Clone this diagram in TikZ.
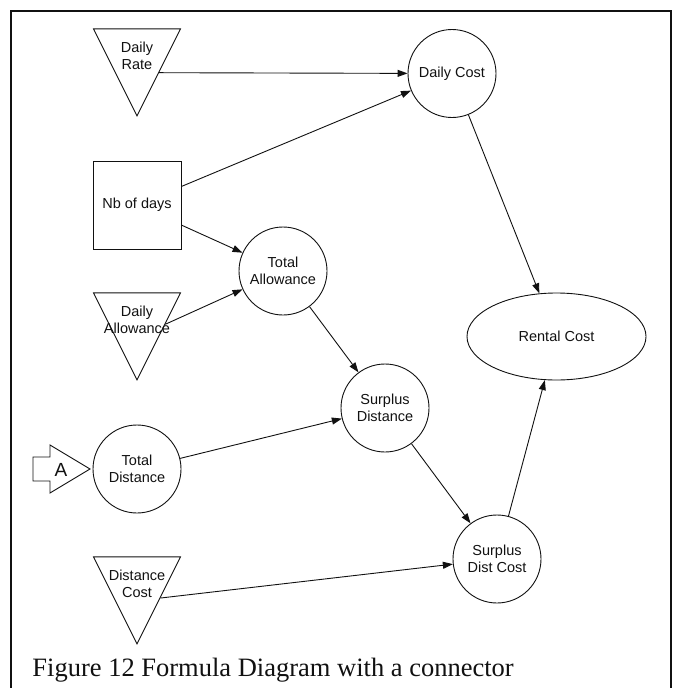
\documentclass[tikz,border=0pt]{standalone}
\usepackage{fontspec}
\setmainfont{Liberation Serif}
\setsansfont{Liberation Sans}
\usetikzlibrary{shapes.geometric,arrows.meta,calc}
\definecolor{ink}{HTML}{111111}

\tikzset{
  lbl/.style={font=\sffamily\fontsize{14.5}{17}\selectfont,align=center,text=ink,inner sep=0pt},
  var/.style={draw=ink,circle,minimum size=88pt,inner sep=0pt,lbl},
  inputtri/.style={draw=ink,isosceles triangle,isosceles triangle stretches,
    shape border rotate=270,minimum width=87pt,minimum height=87pt,inner sep=0pt},
  arr/.style={draw=ink,-{Triangle[length=10pt,width=7pt]}}
}

\begin{document}
\begin{tikzpicture}[x=1pt,y=-1pt,line width=0.9pt]
  \useasboundingbox (0,0) rectangle (681,688);
  \draw[ink,line width=2pt] (11,700) -- (11,11) -- (671,11) -- (671,700);

  % inputs on the left
  \node[inputtri,anchor=apex] (dailyrate) at (137,117) {};
  \node[lbl] (dailyratetxt) at (137,56) {Daily\\Rate};
  \node[draw=ink,minimum width=88pt,minimum height=88pt,lbl] (nbdays) at (137,205) {Nb of days};
  \node[inputtri,anchor=apex] (dailyallow) at (137,381) {};
  \node[lbl] (dailyallowtxt) at (137,320) {Daily\\Allowance};
  \node[inputtri,anchor=apex] (distcost) at (137,645) {};
  \node[lbl] (distcosttxt) at (137,584) {Distance\\Cost};

  % exits on the right side of the triangles
  \coordinate (dailyrateout) at ($(dailyrate.left corner)!0.5!(dailyrate.apex)$);
  \coordinate (dailyallowout) at ($(dailyallow.left corner)!0.36!(dailyallow.apex)$);
  \coordinate (distcostout) at ($(distcost.left corner)!0.47!(distcost.apex)$);

  % connector A
  \draw[ink] (33,457) -- (50,457) -- (50,445) -- (90,469) -- (50,493) -- (50,481) -- (33,481) -- cycle;
  \node[lbl,font=\sffamily\fontsize{19}{20}\selectfont] (conA) at (61,470) {A};

  % formulas
  \node[var] (dailycost) at (452,73.5) {Daily Cost};
  \node[var] (totalallow) at (283,271) {Total\\Allowance};
  \node[var] (surplusdist) at (385,408) {Surplus\\Distance};
  \node[var] (totaldist) at (137,469) {Total\\Distance};
  \node[var] (surplusdc) at (497,559) {Surplus\\Dist Cost};
  \node[draw=ink,ellipse,minimum width=179pt,minimum height=87pt,inner sep=0pt,lbl] (rentalcost) at (556.5,336.5) {Rental Cost};

  % links
  \draw[arr] (dailyrateout) -- (dailycost);
  \draw[arr] (nbdays) -- (dailycost);
  \draw[arr] (nbdays) -- (totalallow);
  \draw[arr] (dailyallowout) -- (totalallow);
  \draw[arr] (dailycost) -- (rentalcost);
  \draw[arr] (totalallow) -- (surplusdist);
  \draw[arr] (totaldist) -- (surplusdist);
  \draw[arr] (surplusdist) -- (surplusdc);
  \draw[arr] (surplusdc) -- (rentalcost);
  \draw[arr] (distcostout) -- (surplusdc);

  \node[font=\rmfamily\fontsize{26.5}{30}\selectfont,anchor=base west,inner sep=0pt,text=ink] (caption) at (32,676)
    {Figure 12 Formula Diagram with a connector};
\end{tikzpicture}
\end{document}
